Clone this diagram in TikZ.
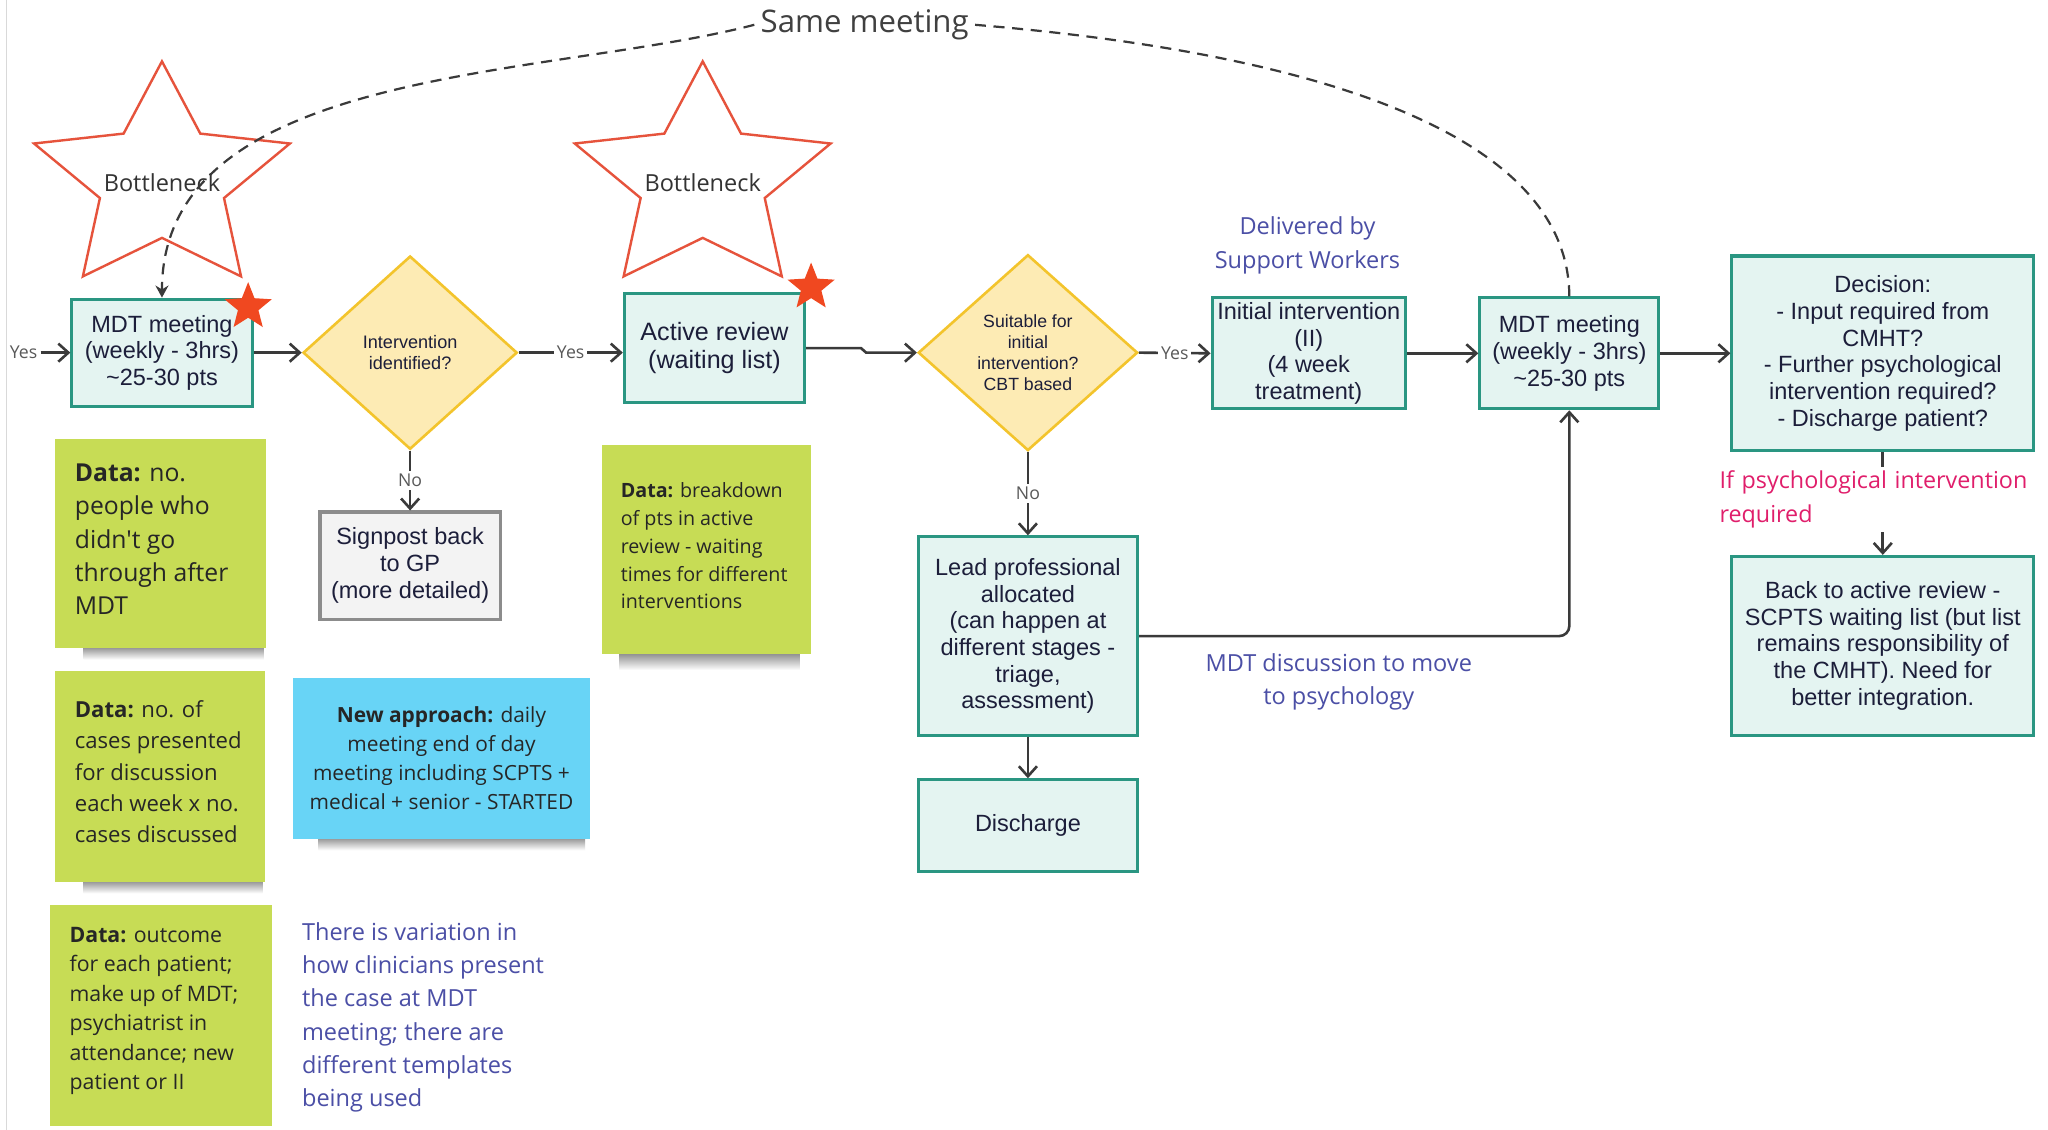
\documentclass[tikz,border=0pt]{standalone}
\usepackage{fontspec}
\setmainfont{Liberation Sans}
\newfontfamily\osans{Open Sans}
\usetikzlibrary{arrows.meta,shapes.geometric}
\newcommand\pxu{0.65pt}
\definecolor{tealb}{RGB}{42,150,130}
\definecolor{tealf}{RGB}{228,244,241}
\definecolor{diamb}{RGB}{243,196,44}
\definecolor{diamf}{RGB}{253,235,180}
\definecolor{starline}{RGB}{230,83,60}
\definecolor{starfill}{RGB}{240,72,32}
\definecolor{noteg}{RGB}{199,220,85}
\definecolor{noteb}{RGB}{104,212,246}
\definecolor{bluetxt}{RGB}{75,79,166}
\definecolor{pinktxt}{RGB}{224,30,107}
\definecolor{boxtxt}{RGB}{28,30,58}
\definecolor{linec}{RGB}{58,58,58}
\definecolor{signf}{RGB}{243,243,243}
\definecolor{signb}{RGB}{140,140,140}
\begin{document}
\begin{tikzpicture}[x=0.65pt,y=-0.65pt,
  box/.style={draw=tealb, line width=1.5pt, fill=tealf, inner sep=0pt, align=center, text=boxtxt, font=\fontsize{11.7}{13.3}\selectfont},
  diam/.style={diamond, draw=diamb, line width=1.3pt, fill=diamf, inner sep=0pt, align=center, text=boxtxt},
  conn/.style={draw=linec, line width=1.3pt, -{Straight Barb[length=5pt,width=9pt]}},
  lbl/.style={fill=white, inner sep=1.5pt, text=black!65, font=\osans\fontsize{8.8}{10}\selectfont},
  note/.style={fill=noteg, inner sep=0pt},
  notetxt/.style={anchor=west, align=left, inner sep=0pt, text=black!85},
  bluenote/.style={text=bluetxt, inner sep=0pt, font=\osans\fontsize{11.7}{16.6}\selectfont},
  bigstar/.style={draw=starline, line width=1.2pt, line join=miter},
  smstar/.style={star, star points=5, star point ratio=2.3, fill=starfill, minimum size=38*\pxu, inner sep=0pt},
  dashline/.style={draw=linec, line width=1.1pt, dash pattern=on 5.5pt off 3.8pt},
  shadowbar/.style={top color=black!45, bottom color=white}
]
\useasboundingbox (0,0) rectangle (1568,865);
\fill[white] (0,0) rectangle (1568,865);
\draw[black!15, line width=0.8pt] (5,0) -- (5,865);

% big stars
\begin{scope}[shift={(124,138)}, x=66.95pt, y=59.15pt]
\draw[bigstar] (90:1) -- (54:0.485) -- (18:1) -- (-18:0.485) -- (-54:1) -- (-90:0.485) -- (-126:1) -- (-162:0.485) -- (162:1) -- (126:0.485) -- cycle;
\end{scope}
\begin{scope}[shift={(538,138)}, x=66.95pt, y=59.15pt]
\draw[bigstar] (90:1) -- (54:0.485) -- (18:1) -- (-18:0.485) -- (-54:1) -- (-90:0.485) -- (-126:1) -- (-162:0.485) -- (162:1) -- (126:0.485) -- cycle;
\end{scope}
\node[font=\osans\fontsize{11.7}{14}\selectfont, text=black!80] (b1) at (124,140) {Bottleneck};
\node[font=\osans\fontsize{11.7}{14}\selectfont, text=black!80] (b2) at (538,140) {Bottleneck};

% shadows of notes
\shade[shadowbar] (64,495) rectangle (202,505);
\shade[shadowbar] (64,674) rectangle (201,684);
\shade[shadowbar] (474,500) rectangle (612,513);
\shade[shadowbar] (244,641) rectangle (448,651);

% sticky notes
\node[note, minimum width=162*\pxu, minimum height=160*\pxu] (n1) at (123,416) {};
\node[notetxt, font=\osans\fontsize{12.3}{16.6}\selectfont] (n1t) at (57,413) {\textbf{Data:} no.\\people who\\didn't go\\through after\\MDT};
\node[note, minimum width=161*\pxu, minimum height=161*\pxu] (n2) at (122.5,594.5) {};
\node[notetxt, font=\osans\fontsize{11}{15.6}\selectfont] (n2t) at (57,591) {\textbf{Data:} no. of\\cases presented\\for discussion\\each week x no.\\cases discussed};
\node[note, minimum width=170*\pxu, minimum height=169*\pxu] (n3) at (123,777.5) {};
\node[notetxt, font=\osans\fontsize{10.6}{14.7}\selectfont] (n3t) at (53,774) {\textbf{Data:} outcome\\for each patient;\\make up of MDT;\\psychiatrist in\\attendance; new\\patient or II};
\node[note, minimum width=160*\pxu, minimum height=160*\pxu] (n4) at (541,421) {};
\node[notetxt, font=\osans\fontsize{9.8}{13.8}\selectfont] (n4t) at (475,418) {\textbf{Data:} breakdown\\of pts in active\\review - waiting\\times for different\\interventions};
\node[fill=noteb, inner sep=0pt, minimum width=228*\pxu, minimum height=123*\pxu, align=center, text=black!85, font=\osans\fontsize{10.4}{14.3}\selectfont] (nb) at (338,580.5) {\textbf{New approach:} daily\\meeting end of day\\meeting including SCPTS +\\medical + senior - STARTED};

% free texts
\node[bluenote, anchor=west, align=left] (vt) at (231,779) {There is variation in\\how clinicians present\\the case at MDT\\meeting; there are\\different templates\\being used};
\node[bluenote, align=center] (dw) at (1001,188) {Delivered by\\Support Workers};
\node[bluenote, align=center] (md) at (1025,522) {MDT discussion to move\\to psychology};

% process nodes
\node[box, minimum width=138*\pxu, minimum height=82*\pxu] (m1) at (124,270) {MDT meeting\\(weekly - 3hrs)\\\textasciitilde25-30 pts};
\node[diam, minimum width=164*\pxu, minimum height=148*\pxu, font=\fontsize{9}{10.4}\selectfont] (d1) at (314,270) {Intervention\\identified?};
\node[draw=signb, line width=1.5pt, fill=signf, inner sep=0pt, align=center, text=boxtxt, font=\fontsize{11.7}{13.3}\selectfont, minimum width=138*\pxu, minimum height=82*\pxu] (sp) at (314,433) {Signpost back\\to GP\\(more detailed)};
\node[box, minimum width=138*\pxu, minimum height=83*\pxu, font=\fontsize{12.5}{13.8}\selectfont] (ar) at (547,266.5) {Active review\\(waiting list)};
\node[diam, minimum width=168*\pxu, minimum height=150*\pxu, font=\fontsize{8.8}{10.4}\selectfont] (d2) at (787,270) {Suitable for\\initial\\intervention?\\CBT based};
\node[box, minimum width=168*\pxu, minimum height=152*\pxu] (lead) at (787,487) {Lead professional\\allocated\\(can happen at\\different stages -\\triage,\\assessment)};
\node[box, minimum width=168*\pxu, minimum height=70*\pxu] (dis) at (787,632) {Discharge};
\node[box, minimum width=148*\pxu, minimum height=85*\pxu] (init) at (1002,270.5) {Initial intervention\\(II)\\(4 week\\treatment)};
\node[box, minimum width=137*\pxu, minimum height=85*\pxu] (m2) at (1201.5,270.5) {MDT meeting\\(weekly - 3hrs)\\\textasciitilde25-30 pts};
\node[box, minimum width=231*\pxu, minimum height=149*\pxu] (dec) at (1441.5,270.5) {Decision:\\- Input required from\\CMHT?\\- Further psychological\\intervention required?\\- Discharge patient?};
\node[box, minimum width=231*\pxu, minimum height=137*\pxu] (back) at (1441.5,494.5) {Back to active review -\\SCPTS waiting list (but list\\remains responsibility of\\the CMHT). Need for\\better integration.};

% connectors
\node[lbl, fill=none] (y0) at (18,270) {Yes};
\draw[conn] (y0.east) -- (m1.west);
\draw[conn] (m1.east) -- (d1.west);
\draw[conn] (d1.east) -- node[lbl]{Yes} (d1.east -| ar.west);
\draw[conn] (d1.south) -- node[lbl]{No} (sp.north);
\draw[conn] (ar.east) -- ++(42,0) -- ++(4,3.5) -- (d2.west);
\draw[conn] (d2.east) -- node[lbl]{Yes} (init.west);
\draw[conn] (d2.south) -- node[lbl]{No} (lead.north);
\draw[conn] (lead.south) -- (dis.north);
\draw[conn, rounded corners=5pt] (lead.east) -| (m2.south);
\draw[conn] (init.east) -- (m2.west);
\draw[conn] (m2.east) -- (dec.west);
\draw[conn] (dec.south) -- node[midway, yshift=3*\pxu, fill=white, inner xsep=0pt, inner ysep=2pt, text width=250*\pxu, align=left, text=pinktxt, font=\osans\fontsize{11.6}{16.9}\selectfont]{If psychological intervention\\required} (back.north);

% small stars
\node[smstar] (s1) at (190,235) {};
\node[smstar] (s2) at (621,220) {};

% same meeting dashed link
\node[fill=white, inner xsep=3pt, inner ysep=1pt, text=black!75, font=\osans\fontsize{15.5}{18}\selectfont] (sm) at (662,19) {Same meeting};
\draw[dashline] (m2.north) .. controls (1201,100) and (1000,40) .. (sm.east);
\draw[dashline, -{Stealth[length=6pt,width=6.5pt]}] (sm.west) .. controls (420,60) and (124,50) .. (m1.north);
\end{tikzpicture}
\end{document}
